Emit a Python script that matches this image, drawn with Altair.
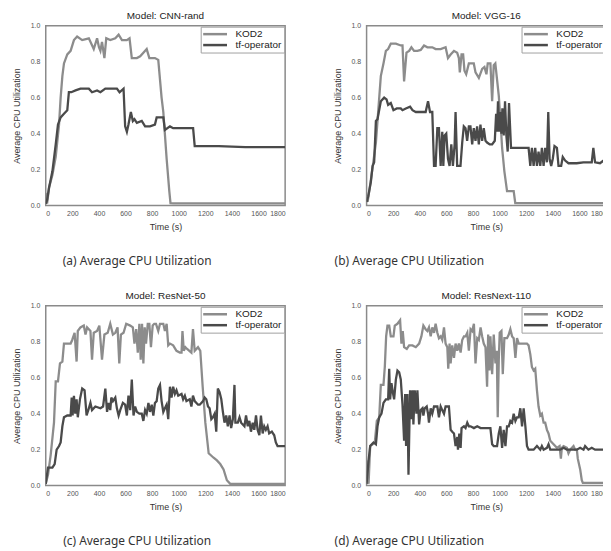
import altair as alt
import pandas as pd

# ---------- data (time s, average CPU utilization) ----------
cnn_kod2 = [(0,0.07),(10,0.01),(25,0.1),(50,0.17),(75,0.27),(100,0.45),(112,0.6),(125,0.72),(137,0.79),(162,0.84),(187,0.86),(212,0.92),(236,0.94),(274,0.92),(324,0.93),(361,0.87),(386,0.93),(400,0.88),(411,0.86),(423,0.91),(441,0.82),(455,0.93),(485,0.92),(523,0.93),(548,0.95),(573,0.92),(610,0.92),(630,0.93),(647,0.82),(685,0.82),(710,0.83),(734,0.85),(759,0.87),(779,0.82),(821,0.82),(846,0.81),(871,0.6),(884,0.52),(909,0.26),(929,0.08),(938,0.013),(960,0.012),(1200,0.012),(1500,0.012),(1800,0.012)]
cnn_tf = [(0,0.01),(10,0.03),(25,0.1),(50,0.19),(75,0.34),(92,0.45),(112,0.49),(137,0.51),(162,0.53),(174,0.63),(192,0.63),(224,0.64),(261,0.65),(324,0.65),(348,0.63),(386,0.64),(411,0.63),(448,0.65),(498,0.65),(535,0.65),(555,0.63),(585,0.65),(597,0.44),(610,0.41),(622,0.45),(640,0.52),(655,0.47),(667,0.48),(685,0.46),(722,0.47),(747,0.44),(784,0.44),(821,0.45),(834,0.49),(884,0.49),(896,0.42),(934,0.44),(958,0.43),(1108,0.43),(1120,0.33),(1158,0.33),(1300,0.33),(1500,0.325),(1800,0.325)]

vgg_kod2 = [(0,0.05),(8,0.02),(20,0.08),(45,0.21),(70,0.35),(107,0.72),(127,0.79),(145,0.86),(162,0.87),(182,0.9),(220,0.9),(257,0.89),(270,0.89),(282,0.69),(300,0.85),(320,0.86),(337,0.88),(357,0.86),(382,0.86),(407,0.865),(432,0.89),(457,0.88),(494,0.88),(519,0.87),(557,0.87),(594,0.88),(612,0.82),(632,0.84),(657,0.86),(681,0.85),(694,0.82),(701,0.74),(714,0.84),(726,0.84),(736,0.75),(749,0.73),(769,0.79),(806,0.79),(819,0.74),(844,0.71),(869,0.76),(886,0.77),(901,0.73),(911,0.79),(931,0.79),(944,0.58),(956,0.78),(968,0.79),(994,0.61),(1006,0.48),(1019,0.32),(1036,0.19),(1056,0.08),(1106,0.08),(1118,0.013),(1300,0.013),(1800,0.013)]
vgg_tf = [(0,0.02),(12,0.05),(32,0.13),(45,0.22),(57,0.24),(70,0.47),(82,0.48),(107,0.58),(132,0.6),(150,0.59),(162,0.56),(182,0.57),(202,0.53),(227,0.54),(257,0.54),(270,0.53),(295,0.54),(327,0.55),(345,0.53),(370,0.52),(444,0.52),(462,0.58),(477,0.52),(494,0.52),(507,0.22),(519,0.22),(532,0.43),(544,0.43),(557,0.22),(569,0.41),(577,0.22),(587,0.39),(599,0.4),(612,0.26),(624,0.22),(637,0.34),(649,0.22),(662,0.34),(669,0.52),(681,0.22),(706,0.22),(719,0.35),(731,0.44),(744,0.43),(756,0.36),(769,0.44),(781,0.44),(794,0.34),(806,0.43),(819,0.36),(831,0.44),(844,0.34),(856,0.45),(869,0.36),(881,0.43),(894,0.36),(906,0.35),(926,0.34),(944,0.34),(964,0.36),(974,0.51),(981,0.41),(988,0.58),(998,0.41),(1006,0.52),(1014,0.4),(1021,0.54),(1031,0.39),(1041,0.58),(1051,0.39),(1061,0.3),(1071,0.57),(1086,0.32),(1131,0.32),(1218,0.32),(1231,0.22),(1243,0.32),(1256,0.22),(1268,0.32),(1281,0.22),(1293,0.3),(1306,0.22),(1318,0.32),(1331,0.22),(1343,0.32),(1356,0.24),(1366,0.52),(1376,0.26),(1388,0.22),(1400,0.26),(1413,0.33),(1431,0.32),(1443,0.22),(1463,0.22),(1475,0.27),(1493,0.25),(1518,0.235),(1580,0.235),(1630,0.24),(1693,0.24),(1705,0.32),(1718,0.24),(1755,0.235),(1800,0.26)]

res50_kod2 = [(0,0.01),(17,0.06),(37,0.17),(62,0.35),(75,0.58),(92,0.58),(107,0.68),(125,0.69),(137,0.79),(187,0.79),(199,0.81),(217,0.85),(232,0.69),(241,0.86),(261,0.88),(286,0.89),(299,0.84),(311,0.88),(336,0.86),(348,0.7),(361,0.85),(386,0.86),(403,0.89),(423,0.7),(441,0.84),(466,0.85),(485,0.9),(505,0.84),(523,0.85),(540,0.88),(553,0.68),(565,0.84),(585,0.85),(605,0.9),(635,0.89),(655,0.88),(667,0.79),(680,0.87),(692,0.74),(704,0.9),(714,0.7),(724,0.9),(734,0.68),(744,0.88),(754,0.79),(767,0.9),(779,0.9),(791,0.77),(804,0.89),(816,0.9),(829,0.9),(846,0.86),(859,0.9),(884,0.9),(896,0.86),(909,0.9),(921,0.78),(934,0.79),(958,0.78),(983,0.75),(1008,0.74),(1021,0.74),(1028,0.86),(1038,0.75),(1050,0.77),(1063,0.76),(1095,0.74),(1107,0.87),(1120,0.75),(1145,0.77),(1162,0.75),(1180,0.55),(1200,0.35),(1225,0.18),(1262,0.155),(1287,0.14),(1312,0.12),(1337,0.09),(1362,0.03),(1387,0.01),(1800,0.01)]
res50_tf = [(0,0.01),(17,0.1),(50,0.1),(67,0.12),(82,0.2),(100,0.22),(112,0.24),(125,0.33),(137,0.38),(162,0.39),(187,0.39),(195,0.49),(202,0.39),(212,0.5),(222,0.4),(232,0.48),(241,0.38),(257,0.48),(274,0.54),(292,0.53),(307,0.39),(324,0.43),(336,0.46),(348,0.42),(373,0.44),(411,0.43),(431,0.44),(448,0.54),(461,0.41),(473,0.46),(485,0.42),(493,0.49),(505,0.47),(523,0.49),(535,0.43),(548,0.39),(560,0.42),(580,0.46),(597,0.45),(610,0.39),(622,0.5),(635,0.42),(647,0.59),(660,0.39),(672,0.44),(685,0.41),(704,0.4),(722,0.4),(734,0.36),(747,0.42),(759,0.4),(772,0.46),(784,0.41),(797,0.45),(809,0.39),(821,0.46),(834,0.47),(846,0.54),(859,0.56),(871,0.47),(884,0.41),(896,0.43),(909,0.45),(921,0.37),(934,0.55),(946,0.49),(958,0.55),(971,0.51),(983,0.53),(996,0.5),(1021,0.51),(1033,0.48),(1046,0.5),(1058,0.47),(1083,0.48),(1095,0.44),(1107,0.5),(1120,0.47),(1145,0.45),(1158,0.45),(1183,0.47),(1195,0.49),(1207,0.48),(1220,0.44),(1232,0.43),(1245,0.37),(1257,0.38),(1270,0.4),(1282,0.3),(1294,0.54),(1307,0.52),(1320,0.48),(1332,0.41),(1344,0.35),(1357,0.39),(1369,0.33),(1382,0.39),(1394,0.32),(1407,0.37),(1419,0.56),(1426,0.35),(1444,0.35),(1457,0.38),(1469,0.35),(1494,0.33),(1506,0.39),(1519,0.33),(1531,0.36),(1543,0.3),(1556,0.35),(1568,0.31),(1581,0.39),(1593,0.31),(1606,0.28),(1618,0.39),(1631,0.29),(1643,0.33),(1655,0.31),(1668,0.33),(1680,0.29),(1700,0.3),(1718,0.28),(1730,0.24),(1743,0.22),(1800,0.22)]

resx_kod2 = [(0,0.14),(15,0.01),(27,0.22),(45,0.23),(62,0.24),(77,0.36),(95,0.38),(107,0.56),(127,0.56),(137,0.66),(147,0.83),(157,0.89),(170,0.89),(182,0.83),(202,0.83),(212,0.89),(232,0.9),(252,0.92),(262,0.79),(272,0.86),(282,0.77),(302,0.76),(320,0.78),(345,0.78),(370,0.77),(395,0.79),(412,0.83),(427,0.89),(444,0.87),(457,0.86),(469,0.88),(482,0.83),(494,0.88),(507,0.85),(519,0.9),(532,0.85),(544,0.82),(557,0.83),(569,0.81),(582,0.88),(594,0.79),(607,0.77),(614,0.65),(624,0.79),(632,0.68),(644,0.78),(657,0.71),(669,0.79),(682,0.75),(694,0.79),(707,0.74),(719,0.81),(732,0.83),(744,0.83),(757,0.85),(769,0.75),(782,0.87),(794,0.86),(807,0.9),(819,0.68),(832,0.82),(844,0.81),(857,0.88),(869,0.83),(881,0.79),(894,0.77),(906,0.55),(914,0.84),(924,0.64),(931,0.83),(944,0.62),(956,0.84),(969,0.68),(979,0.75),(986,0.38),(994,0.7),(1001,0.85),(1014,0.86),(1024,0.62),(1036,0.82),(1056,0.82),(1069,0.84),(1081,0.87),(1094,0.83),(1106,0.82),(1119,0.71),(1131,0.82),(1144,0.79),(1206,0.79),(1218,0.78),(1231,0.73),(1243,0.66),(1256,0.64),(1268,0.65),(1281,0.53),(1293,0.44),(1306,0.39),(1318,0.4),(1331,0.35),(1343,0.35),(1356,0.31),(1368,0.29),(1381,0.25),(1406,0.23),(1431,0.21),(1451,0.22),(1461,0.15),(1468,0.21),(1481,0.22),(1506,0.21),(1518,0.18),(1531,0.2),(1556,0.22),(1568,0.2),(1581,0.2),(1588,0.15),(1606,0.09),(1618,0.03),(1626,0.015),(1800,0.015)]
resx_tf = [(0,0.01),(15,0.14),(27,0.22),(52,0.24),(70,0.23),(82,0.33),(95,0.38),(112,0.4),(127,0.46),(145,0.48),(162,0.48),(170,0.65),(177,0.48),(187,0.57),(197,0.52),(207,0.48),(220,0.59),(232,0.64),(245,0.63),(257,0.59),(270,0.45),(282,0.25),(290,0.51),(297,0.22),(307,0.51),(315,0.06),(327,0.53),(337,0.37),(345,0.53),(352,0.34),(362,0.53),(375,0.4),(382,0.53),(395,0.34),(407,0.42),(420,0.43),(427,0.39),(437,0.43),(452,0.44),(462,0.4),(469,0.35),(482,0.43),(494,0.4),(507,0.44),(532,0.44),(544,0.38),(557,0.44),(569,0.42),(582,0.4),(594,0.44),(619,0.44),(632,0.31),(644,0.3),(657,0.29),(669,0.22),(682,0.27),(687,0.2),(697,0.29),(707,0.21),(714,0.32),(732,0.33),(744,0.32),(757,0.35),(769,0.33),(782,0.33),(807,0.32),(832,0.33),(857,0.32),(906,0.32),(931,0.32),(944,0.23),(956,0.22),(981,0.22),(994,0.29),(1006,0.33),(1019,0.21),(1031,0.31),(1044,0.22),(1056,0.33),(1069,0.33),(1081,0.36),(1094,0.35),(1106,0.4),(1119,0.36),(1131,0.38),(1144,0.38),(1156,0.43),(1169,0.33),(1181,0.43),(1194,0.33),(1206,0.22),(1218,0.2),(1256,0.2),(1281,0.22),(1306,0.2),(1318,0.22),(1331,0.2),(1356,0.21),(1368,0.23),(1381,0.2),(1456,0.2),(1481,0.21),(1506,0.2),(1581,0.2),(1606,0.21),(1631,0.2),(1643,0.22),(1668,0.2),(1693,0.21),(1718,0.2),(1800,0.2)]

series_names = ["KOD2", "tf-operator"]
series_colors = ["#8c8c8c", "#4a4a4a"]
x_ticks = [0, 200, 400, 600, 800, 1000, 1200, 1400, 1600, 1800]
y_ticks = [0.0, 0.2, 0.4, 0.6, 0.8, 1.0]

W, H = 241, 181
FONT = "Liberation Sans"


def panel(title, kod2, tf, caption, cap_x):
    rows = [{"t": t, "v": v, "series": "KOD2", "k": i} for i, (t, v) in enumerate(kod2)]
    rows += [{"t": t, "v": v, "series": "tf-operator", "k": i} for i, (t, v) in enumerate(tf)]
    df = pd.DataFrame(rows)
    lines = alt.Chart(df).mark_line(strokeWidth=2.3, clip=True).encode(
        x=alt.X("t:Q", scale=alt.Scale(domain=[0, 1800], nice=False),
                axis=alt.Axis(values=x_ticks, format="d", title="Time (s)",
                              labelPadding=4, titlePadding=6)),
        y=alt.Y("v:Q", scale=alt.Scale(domain=[0, 1], nice=False),
                axis=alt.Axis(values=y_ticks, format=".1f", title="Average CPU Utilization",
                              labelPadding=6, titlePadding=9)),
        color=alt.Color("series:N", scale=alt.Scale(domain=series_names, range=series_colors),
                        legend=alt.Legend(orient="top-right", offset=1, title=None,
                                          strokeColor="#a0a0a0", fillColor="white",
                                          padding=2, rowPadding=0, labelFontSize=10,
                                          labelFont=FONT, labelColor="#222",
                                          symbolType="M-3,0H3", symbolSize=64,
                                          symbolStrokeWidth=2.5, symbolOffset=7,
                                          labelOffset=15)),
        order="k:Q",
    )
    cap = alt.Chart(pd.DataFrame({"c": [caption]})).mark_text(
        font="Noto Sans", fontSize=12, color="#333"
    ).encode(text="c:N", x=alt.value(cap_x), y=alt.value(H + 56))
    return alt.layer(lines, cap).properties(
        width=W, height=H,
        title=alt.TitleParams(title, font=FONT, fontSize=10, fontWeight="normal",
                              color="#222", offset=1),
    )


a = panel("Model: CNN-rand", cnn_kod2, cnn_tf, "(a) Average CPU Utilization", 92)
b = panel("Model: VGG-16", vgg_kod2, vgg_tf, "(b) Average CPU Utilization", 43)
c = panel("Model: ResNet-50", res50_kod2, res50_tf, "(c) Average CPU Utilization", 92)
d = panel("Model: ResNext-110", resx_kod2, resx_tf, "(d) Average CPU Utilization", 43)

row1 = alt.hconcat(a, b, spacing=46).resolve_scale(color="independent").resolve_legend(color="independent")
row2 = alt.hconcat(c, d, spacing=46).resolve_scale(color="independent").resolve_legend(color="independent")

chart = alt.vconcat(row1, row2, spacing=22).resolve_scale(
    color="independent"
).resolve_legend(color="independent").properties(
    padding={"left": 3, "top": 0, "right": -4, "bottom": 0},
    background="white",
).configure_view(
    stroke="#8a8a8a", strokeWidth=1.5
).configure_axis(
    labelFont=FONT, labelFontSize=7, labelColor="#555",
    titleFont=FONT, titleFontSize=9, titleFontWeight="normal", titleColor="#333",
    ticks=False, domain=False, grid=False,
)

chart.save("out.html", embed_options={"renderer": "svg", "actions": False})
